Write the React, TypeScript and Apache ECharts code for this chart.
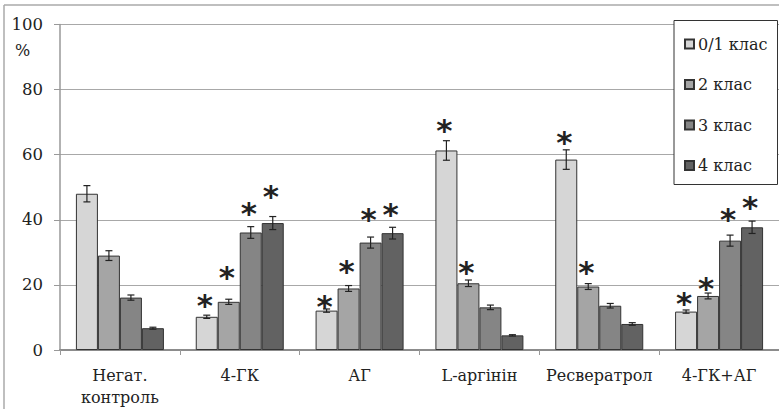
import React, { useEffect, useRef } from "react";
import * as echarts from "echarts";

const categories = ["Негат.\nконтроль", "4-ГК", "АГ", "L-аргінін", "Ресвератрол", "4-ГК+АГ"];
const seriesNames = ["0/1 клас", "2 клас", "3 клас", "4 клас"];
const seriesColors = ["#d6d6d6", "#a5a5a5", "#858585", "#626262"];

const class01 = [48.0, 10.2, 12.1, 61.3, 58.5, 11.8];
const class2 = [29.0, 14.8, 18.9, 20.5, 19.5, 16.6];
const class3 = [16.1, 36.1, 33.0, 13.1, 13.6, 33.6];
const class4 = [6.7, 39.0, 35.9, 4.5, 8.0, 37.7];

const err01 = [2.5, 0.5, 0.5, 3.0, 3.0, 0.5];
const err2 = [1.5, 0.8, 0.9, 1.0, 0.9, 0.9];
const err3 = [0.8, 1.8, 1.7, 0.7, 0.7, 1.7];
const err4 = [0.3, 2.0, 1.8, 0.2, 0.4, 1.9];

// asterisk (significance mark) heights in % units; null = no mark
const star01 = [null, 15.1, 14.8, 68.9, 65.0, 15.6];
const star2 = [null, 23.8, 25.4, 25.1, 25.2, 20.3];
const star3 = [null, 43.2, 41.6, null, null, 41.5];
const star4 = [null, 48.5, 42.9, null, null, 45.1];

const yTicks = { min: 0, max: 100, interval: 20 };

const values = [class01, class2, class3, class4];
const errs = [err01, err2, err3, err4];
const stars = [star01, star2, star3, star4];

const SERIF = "DejaVu Serif";
const BAR_W = 22;

export default function App() {
  const ref = useRef<HTMLDivElement>(null);
  useEffect(() => {
    if (!ref.current) return;
    const chart = echarts.init(ref.current, null, { renderer: "svg" });
    const barSeries = seriesNames.map((name, i) => ({
      name,
      type: "bar",
      data: values[i],
      barWidth: BAR_W,
      barGap: "0%",
      itemStyle: { color: seriesColors[i], borderColor: "#333", borderWidth: 1 },
      z: 2,
    }));
    const errSeries = seriesNames.map((name, i) => ({
      name: "err" + i,
      type: "custom",
      z: 5,
      clip: false,
      encode: { x: 0, y: 1 },
      data: values[i].map((v, k) => [k, v]),
      renderItem: (params: any, api: any) => {
        const k = params.dataIndex;
        const x = api.value(0);
        const v = api.value(1);
        const e = errs[i][k];
        const off = (i - 1.5) * BAR_W;
        const top = api.coord([x, v + e]);
        const bot = api.coord([x, v - e]);
        const cx = top[0] + off;
        const cap = 3.5;
        const ls = { stroke: "#222", lineWidth: 1.2 };
        const children: any[] = [
          { type: "line", shape: { x1: cx, y1: top[1], x2: cx, y2: bot[1] }, style: ls },
          { type: "line", shape: { x1: cx - cap, y1: top[1], x2: cx + cap, y2: top[1] }, style: ls },
          { type: "line", shape: { x1: cx - cap, y1: bot[1], x2: cx + cap, y2: bot[1] }, style: ls },
        ];
        const s = stars[i][k];
        if (s !== null && s !== undefined) {
          const sp = api.coord([x, s]);
          children.push({
            type: "text",
            style: {
              text: "*",
              x: cx - 2,
              y: sp[1] + 4,
              textAlign: "center",
              textVerticalAlign: "middle",
              fontFamily: "DejaVu Sans",
              fontSize: 31,
              fontWeight: "bold",
              fill: "#222",
            },
          });
        }
        return { type: "group", children };
      },
    }));
    chart.setOption({
      animation: false,
      backgroundColor: "#fff",
      grid: {
        left: 60,
        right: 0,
        top: 24.5,
        bottom: 59,
        containLabel: false,
        outerBoundsMode: "none",
      },
      legend: {
        data: seriesNames,
        orient: "vertical",
        left: 674,
        top: 20.5,
        padding: [15.5, 10, 11, 10],
        itemGap: 24.5,
        itemWidth: 9,
        itemHeight: 9,
        icon: "rect",
        borderColor: "#333",
        borderWidth: 1,
        backgroundColor: "#fff",
        textStyle: { fontFamily: SERIF, fontSize: 16, lineHeight: 16, color: "#222", padding: [0, 0, 0, -1] },
      },
      xAxis: {
        type: "category",
        data: categories,
        axisLine: { lineStyle: { color: "#8c8c8c", width: 2 } },
        axisTick: { show: true, length: 5, lineStyle: { color: "#999" } },
        axisLabel: {
          interval: 0,
          fontFamily: SERIF,
          fontSize: 16,
          color: "#222",
          margin: 14,
          lineHeight: 22,
        },
      },
      yAxis: {
        type: "value",
        min: yTicks.min,
        max: yTicks.max,
        interval: yTicks.interval,
        axisLine: { show: true, lineStyle: { color: "#999", width: 1.5 } },
        axisTick: { show: true, length: 6, lineStyle: { color: "#999" } },
        axisLabel: { fontFamily: SERIF, fontSize: 16.5, color: "#222", margin: 17 },
        splitLine: { lineStyle: { color: "#a8a8a8", width: 1 } },
      },
      graphic: [
        { type: "line", shape: { x1: 4, y1: 5, x2: 779, y2: 5 }, style: { stroke: "#aaa", lineWidth: 1.5 } },
        { type: "line", shape: { x1: 4, y1: 5, x2: 4, y2: 409 }, style: { stroke: "#aaa", lineWidth: 1.5 } },
        {
          type: "text",
          left: 15,
          top: 42,
          style: { text: "%", fontFamily: SERIF, fontSize: 16, fill: "#222" },
        },
      ],
      series: [...barSeries, ...errSeries],
    });
    return () => chart.dispose();
  }, []);
  return (
    <div
      ref={ref}
      style={{ position: "fixed", left: 0, top: 0, width: 779, height: 409, background: "#fff" }}
    />
  );
}
